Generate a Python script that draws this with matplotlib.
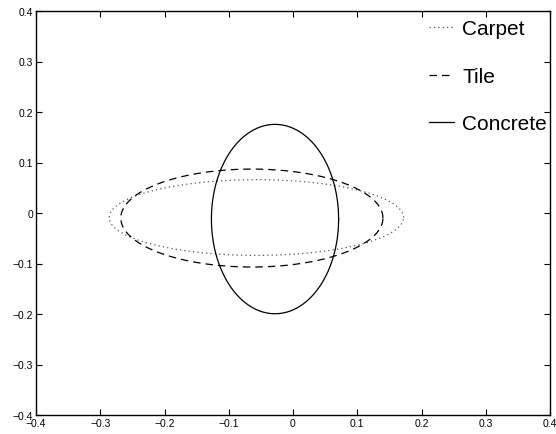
import numpy as np
import matplotlib
matplotlib.use("Agg")
import matplotlib.pyplot as plt

plt.rcParams['font.family'] = ['Liberation Sans', 'DejaVu Sans']

# Data: ellipse parameters
labels = ["Carpet", "Tile", "Concrete"]
center_x = [-0.057, -0.064, -0.028]
center_y = [-0.009, -0.010, -0.012]
semi_x = [0.229, 0.204, 0.099]
semi_y = [0.075, 0.097, 0.1875]

ticks = [-0.4, -0.3, -0.2, -0.1, 0, 0.1, 0.2, 0.3, 0.4]
tick_labels = ["\u22120.4", "\u22120.3", "\u22120.2", "\u22120.1", "0", "0.1", "0.2", "0.3", "0.4"]

styles = [
    dict(color="#555555", linestyle=(0, (1, 2.5)), linewidth=0.9),
    dict(color="black", linestyle=(0, (6, 4)), linewidth=0.9),
    dict(color="black", linestyle="-", linewidth=0.9),
]

fig = plt.figure(figsize=(5.56, 4.35), dpi=100)
ax = fig.add_axes([36/556, 19/435, 514/556, 404/435])

t = np.linspace(0, 2*np.pi, 400)
for lab, cx, cy, a, b, st in zip(labels, center_x, center_y, semi_x, semi_y, styles):
    ax.plot(cx + a*np.cos(t), cy + b*np.sin(t), label=lab, **st)

ax.set_xlim(-0.4, 0.4)
ax.set_ylim(-0.4, 0.4)
ax.set_xticks(ticks)
ax.set_xticklabels(tick_labels)
ax.set_yticks(ticks)
ax.set_yticklabels(tick_labels)
ax.tick_params(direction='in', length=4, width=0.8, top=True, right=True,
               labelsize=7.5, pad=2)
for s in ax.spines.values():
    s.set_linewidth(1.0)

leg = ax.legend(loc='upper right', bbox_to_anchor=(1.010, 1.000), frameon=False,
                fontsize=15, handlelength=1.2, handletextpad=0.4,
                labelspacing=1.37, borderaxespad=0.0)

fig.savefig("out.png", dpi=100)
